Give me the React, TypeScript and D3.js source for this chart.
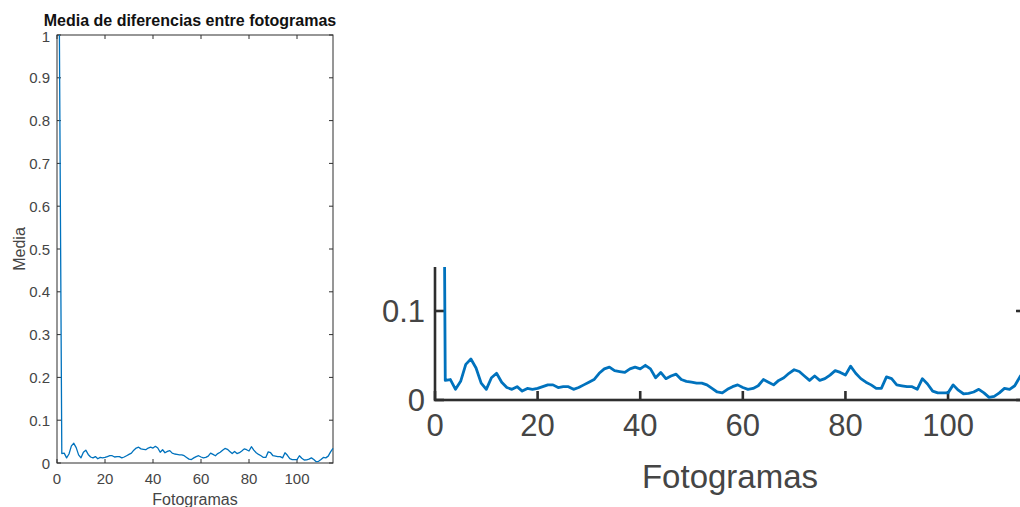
import React from 'react'
import * as d3 from 'd3'

// media de diferencias por fotograma (fotograma 1..115)
const media = [
  1.0, 0.022, 0.023, 0.012, 0.021, 0.040, 0.046, 0.036, 0.019, 0.012,
  0.025, 0.030, 0.020, 0.014, 0.012, 0.015, 0.010, 0.013, 0.012, 0.013,
  0.015, 0.017, 0.017, 0.014, 0.015, 0.015, 0.012, 0.014, 0.017, 0.020,
  0.023, 0.030, 0.035, 0.037, 0.033, 0.032, 0.031, 0.035, 0.037, 0.035,
  0.039, 0.035, 0.025, 0.031, 0.024, 0.027, 0.029, 0.023, 0.021, 0.020,
  0.019, 0.019, 0.017, 0.013, 0.009, 0.008, 0.012, 0.015, 0.017, 0.014,
  0.012, 0.013, 0.016, 0.023, 0.020, 0.017, 0.022, 0.025, 0.030, 0.034,
  0.032, 0.027, 0.022, 0.027, 0.022, 0.024, 0.028, 0.033, 0.031, 0.028,
  0.038, 0.030, 0.024, 0.020, 0.017, 0.013, 0.013, 0.026, 0.024, 0.017,
  0.016, 0.015, 0.015, 0.012, 0.024, 0.018, 0.010, 0.008, 0.008, 0.008,
  0.017, 0.011, 0.007, 0.0075, 0.009, 0.012, 0.008, 0.003, 0.004, 0.008,
  0.013, 0.012, 0.016, 0.026, 0.034,
]
const xTicks = [0, 20, 40, 60, 80, 100]
const yTicks = [0, 0.1, 0.2, 0.3, 0.4, 0.5, 0.6, 0.7, 0.8, 0.9, 1]
const yTickLabels = ['0', '0.1', '0.2', '0.3', '0.4', '0.5', '0.6', '0.7', '0.8', '0.9', '1']
const titulo = 'Media de diferencias entre fotogramas'
const etiquetaX = 'Fotogramas'
const etiquetaY = 'Media'

const FONT = '"Liberation Sans", Arial, Helvetica, sans-serif'
const AX = '#2e2e2e'
const TXT = '#454545'

type Cfg = {
  left: number
  right: number
  top: number
  bottom: number
  yMax: number
  fs: number
  fsLab: number
  tick: number
  aw: number
  lw: number
  yGap: number
  xLabDy: number
  xTitleY: number
  yTitleX?: number
  titleY?: number
  titleX?: number
}

function Plot({ c }: { c: Cfg }) {
  const x = d3.scaleLinear().domain([0, 115]).range([c.left, c.right])
  const y = d3.scaleLinear().domain([0, 1]).range([c.bottom, c.top])
  const line = d3.line<number>()
    .x((d, i) => x(i + 1))
    .y(d => y(d))

  // en la vista ampliada solo se ve la parte baja del eje
  const visibles = yTicks.map((t, i) => ({ t, lab: yTickLabels[i] })).filter(d => d.t <= c.yMax)

  return (
    <g fontFamily={FONT}>
      <rect x={c.left} y={c.top} width={c.right - c.left} height={c.bottom - c.top}
        fill="none" stroke={AX} strokeWidth={c.aw} />
      {xTicks.map(t => (
        <g key={'x' + t}>
          <line x1={x(t)} x2={x(t)} y1={c.bottom} y2={c.bottom - c.tick} stroke={AX} strokeWidth={c.aw} />
          <line x1={x(t)} x2={x(t)} y1={c.top} y2={c.top + c.tick} stroke={AX} strokeWidth={c.aw} />
          <text x={x(t)} y={c.bottom + c.xLabDy} fontSize={c.fs} fill={TXT}
            textAnchor="middle" dominantBaseline="central">{t}</text>
        </g>
      ))}
      {visibles.map(d => (
        <g key={'y' + d.t}>
          <line x1={c.left} x2={c.left + c.tick} y1={y(d.t)} y2={y(d.t)} stroke={AX} strokeWidth={c.aw} />
          <line x1={c.right} x2={c.right - c.tick} y1={y(d.t)} y2={y(d.t)} stroke={AX} strokeWidth={c.aw} />
          <text x={c.left - c.yGap} y={y(d.t) + (d.t === 1 ? 1 : 0)} fontSize={c.fs} fill={TXT}
            textAnchor="end" dominantBaseline="central">{d.lab}</text>
        </g>
      ))}
      <path d={line(media) || ''} fill="none" stroke="#0072BD" strokeWidth={c.lw} strokeLinejoin="round" />
      <text x={(c.left + c.right) / 2} y={c.xTitleY} fontSize={c.fsLab} fill={TXT} textAnchor="middle">{etiquetaX}</text>
      {c.yTitleX !== undefined &&
        <text transform={`translate(${c.yTitleX},${(c.top + c.bottom) / 2}) rotate(-90)`}
          fontSize={c.fsLab} fill={TXT} textAnchor="middle">{etiquetaY}</text>}
      {c.titleY !== undefined &&
        <text x={c.titleX} y={c.titleY} fontSize={c.fsLab} fontWeight="bold"
          fill="#111" textAnchor="middle">{titulo}</text>}
    </g>
  )
}

const small: Cfg = {
  left: 57, right: 333, top: 35, bottom: 463, yMax: 1,
  fs: 15, fsLab: 16, tick: 4, aw: 1, lw: 1.3,
  yGap: 7, xLabDy: 15, xTitleY: 505, yTitleX: 25, titleY: 26, titleX: 190,
}

const big: Cfg = {
  left: 435, right: 1025, top: -490, bottom: 400, yMax: 0.15,
  fs: 31, fsLab: 33, tick: 9, aw: 2.6, lw: 2.8,
  yGap: 10, xLabDy: 25, xTitleY: 488,
}

export default function App() {
  return (
    <svg width={1020} height={507} style={{ position: 'absolute', left: 0, top: 0, background: '#fff' }}>
      <defs>
        <clipPath id="recorte">
          <rect x={372} y={267} width={648} height={240} />
        </clipPath>
      </defs>
      <Plot c={small} />
      <g clipPath="url(#recorte)">
        <Plot c={big} />
      </g>
    </svg>
  )
}
